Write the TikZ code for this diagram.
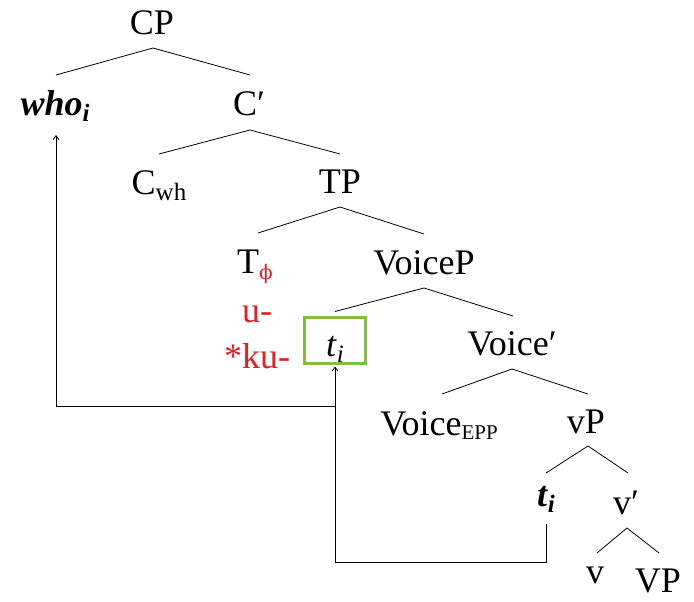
\documentclass[tikz,border=0pt]{standalone}
\usepackage{fontspec}
\setmainfont{Liberation Serif}
\newfontfamily\dvs{DejaVu Serif}
\usetikzlibrary{arrows.meta,calc}
\definecolor{myred}{RGB}{230,30,35}
\definecolor{mygreen}{RGB}{125,192,66}
\newcommand\lbl{\fontsize{36}{40}\selectfont}
\newcommand\subs[1]{\raisebox{-6pt}{\fontsize{25}{28}\selectfont #1}}
\newcommand\subsm[1]{\raisebox{-4pt}{\fontsize{21}{24}\selectfont #1}}
\begin{document}
\begin{tikzpicture}[x=1pt,y=-1pt,
  lab/.style={anchor=base, inner sep=0pt, font=\lbl},
  br/.style={line width=0.8pt},
  arr/.style={line width=0.8pt, -{Straight Barb[length=4pt,width=6pt]}}]
\useasboundingbox (0,0) rectangle (694,602);
\node[lab] (CP) at (152,35) {CP};
\node[lab] (who) at (55,115) {\textbf{\textit{who}}\subs{\textbf{\textit{i}}}};
\node[lab] (Cbar) at (249,116) {C′};
\node[lab] (Cwh) at (159,194) {C\subs{wh}};
\node[lab] (TP) at (340,193) {TP};
\node[lab] (T) at (255,273) {T\raisebox{-6pt}{\fontsize{20}{24}\dvs\textcolor{myred}{ϕ}}};
\node[lab] (VoiceP) at (424,274) {VoiceP};
\node[lab, text=myred] (u) at (257,322) {u-};
\node[lab, text=myred] (ku) at (257,368) {*ku-};
\node[draw=mygreen, line width=3pt, minimum width=61pt, minimum height=46pt, inner sep=0pt] (box) at (335,340.5) {};
\node[lab] (t1) at (335,356) {\textit{t}\subs{\textit{i}}};
\node[lab] (Voicebar) at (512,355) {Voice′};
\node[lab] (VoiceEPP) at (439,435) {Voice\subsm{EPP}};
\node[lab] (vP) at (586,433) {vP};
\node[lab] (t2) at (546,506) {\textbf{\textit{t}}\subs{\textbf{\textit{i}}}};
\node[lab] (vbar) at (626,514) {v′};
\node[lab] (v) at (595,583) {v};
\node[lab] (VP) at (658,592) {VP};
% branches
\draw[br] ($(CP.base)+(1,13)$) -- ($(who.base)+(1,-40)$);
\draw[br] ($(CP.base)+(1,13)$) -- ($(Cbar.base)+(1,-41)$);
\draw[br] ($(Cbar.base)+(1,14)$) -- ($(Cwh.base)+(0,-40)$);
\draw[br] ($(Cbar.base)+(1,14)$) -- ($(TP.base)+(0,-39)$);
\draw[br] ($(TP.base)+(0,14)$) -- ($(T.base)+(3,-40)$);
\draw[br] ($(TP.base)+(0,14)$) -- ($(VoiceP.base)+(0,-40)$);
\draw[br] ($(VoiceP.base)+(0,14)$) -- ($(box.north)+(0,-4.5)$);
\draw[br] ($(VoiceP.base)+(0,14)$) -- ($(Voicebar.base)+(1,-39)$);
\draw[br] ($(Voicebar.base)+(0,14)$) -- ($(VoiceEPP.base)+(3,-41)$);
\draw[br] ($(Voicebar.base)+(0,14)$) -- ($(vP.base)+(2,-39)$);
\draw[br] ($(vP.base)+(2,13)$) -- ($(t2.base)+(0,-33)$);
\draw[br] ($(vP.base)+(2,13)$) -- ($(vbar.base)+(2,-41)$);
\draw[br] ($(vbar.base)+(1,14)$) -- ($(v.base)+(2,-30)$);
\draw[br] ($(vbar.base)+(1,14)$) -- ($(VP.base)+(1,-39)$);
% movement arrows
\draw[arr] ($(t2.base)+(0,18)$) -- ($(t2.base)+(0,56)$) -| ($(box.south)+(0,1.5)$);
\draw[arr] ($(box.south)+(0,1.5)$) |- ($(who.base)+(1,291)$) -- ($(who.base)+(1,20)$);
\end{tikzpicture}
\end{document}
